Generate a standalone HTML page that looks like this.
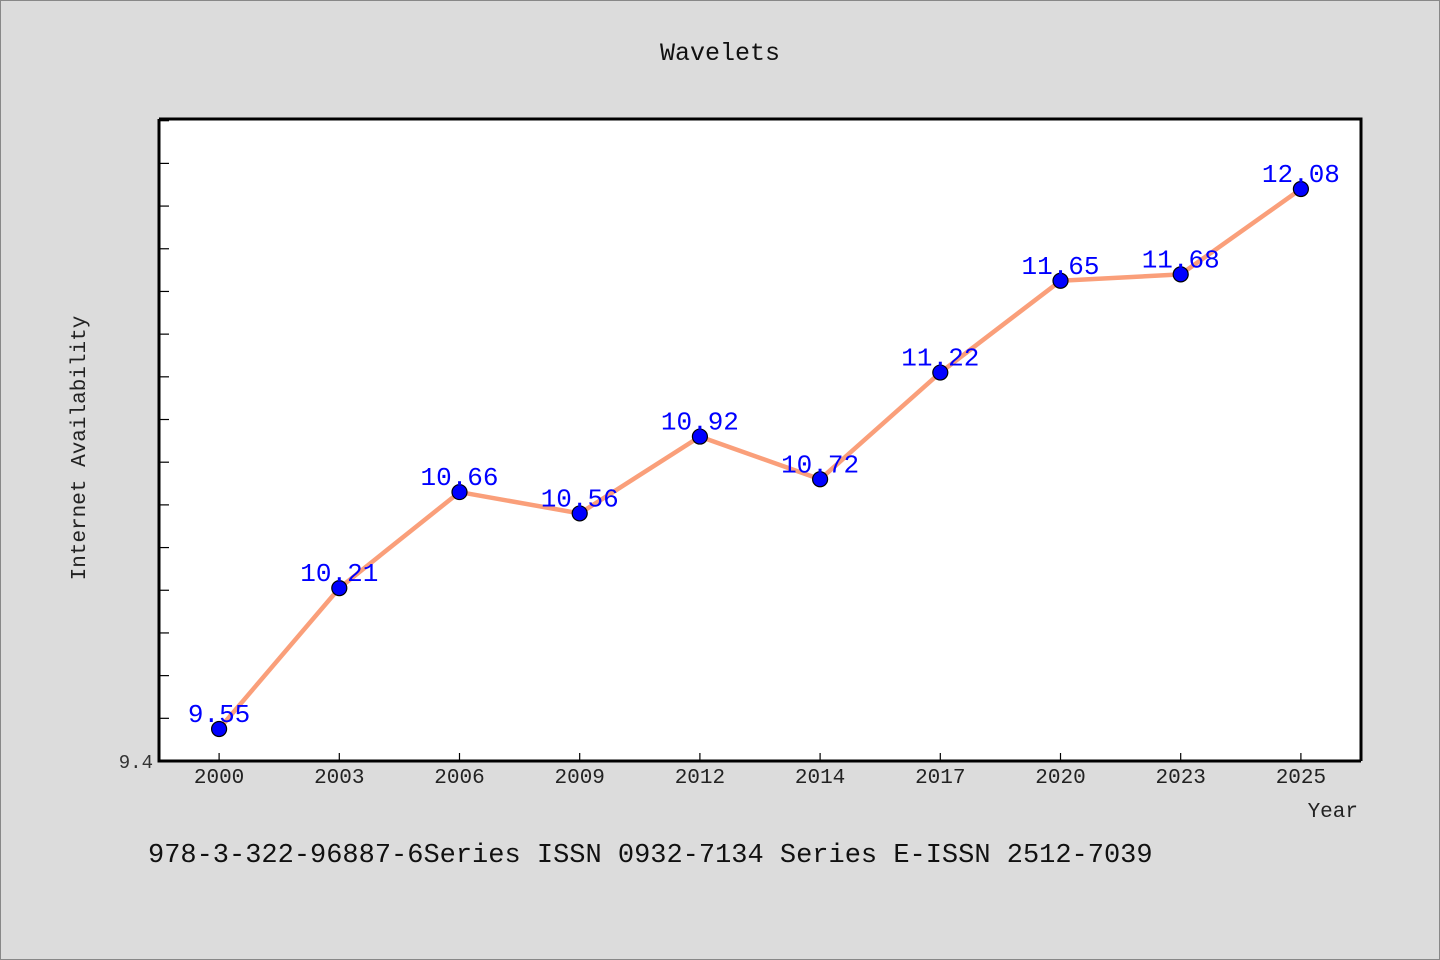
<!DOCTYPE html>
<html><head><meta charset="utf-8"><style>
html,body{margin:0;padding:0;}
body{width:1440px;height:960px;background:#dcdcdc;overflow:hidden;font-family:"WenQuanYi Zen Hei","Liberation Mono",monospace;}
svg{position:absolute;left:0;top:0;}
</style></head><body>
<svg id="chart" width="1440" height="960">
<rect x="0.5" y="0.5" width="1439" height="959" fill="#dcdcdc" stroke="#888"/>
<text x="720" y="60" text-anchor="middle" font-size="25" fill="#111">Wavelets</text>
<rect x="159" y="119" width="1202" height="642" fill="#fff"/>
<g id="ticks"></g>
<g id="series"></g>
<path d="M159,119 H1361 V761" fill="none" stroke="#000" stroke-width="3"/>
<path d="M159,119 V761 H1361" fill="none" stroke="#000" stroke-width="3"/>
<text x="85" y="448" text-anchor="middle" font-size="21" fill="#222" transform="rotate(-90 85 448)">Internet Availability</text>
<text x="1358" y="817" text-anchor="end" font-size="21" fill="#222">Year</text>
<text x="148" y="862" font-size="27" fill="#111">978-3-322-96887-6Series ISSN 0932-7134 Series E-ISSN 2512-7039</text>
</svg>
<script>
const categories=["2000","2003","2006","2009","2012","2014","2017","2020","2023","2025"];
const values=[9.55,10.21,10.66,10.56,10.92,10.72,11.22,11.65,11.68,12.08];
const yMin=9.4, yMax=12.408;
const yTickLabels=["9.4"];
const NS="http://www.w3.org/2000/svg";
const L=159,R=1361,T=119,B=761;
const band=(R-L)/categories.length;
function xs(i){return L+band*(i+0.5);}
function ys(v){return B-(v-yMin)/(yMax-yMin)*(B-T);}
function mk(tag,attrs,parent){const e=document.createElementNS(NS,tag);for(const k in attrs)e.setAttribute(k,attrs[k]);parent.appendChild(e);return e;}
const tg=document.getElementById('ticks'), sg=document.getElementById('series');
for(let v=yMin+0.2;v<yMax;v+=0.2){
  const t=mk('line',{x1:L,x2:L+10,y1:ys(v),y2:ys(v),stroke:'#000','stroke-width':1.2},tg);
  
  
}
yTickLabels.forEach(s=>{
  const t=mk('text',{x:L-6,y:ys(parseFloat(s))+7,'text-anchor':'end','font-size':19,fill:'#333'},tg);
  t.textContent=s;
  
  
});
categories.forEach((c,i)=>{
  const t=mk('line',{x1:xs(i),x2:xs(i),y1:B,y2:B-8,stroke:'#000','stroke-width':1.2},tg);
  
  
  const l=mk('text',{x:xs(i),y:783,'text-anchor':'middle','font-size':21,fill:'#222'},tg);
  l.textContent=c;
  
  
});
const line=mk('polyline',{points:values.map((v,i)=>xs(i)+','+ys(v)).join(' '),fill:'none',stroke:'#fa9f7a','stroke-width':4.5,'stroke-linejoin':'round'},sg);


values.forEach((v,i)=>{
  const p=mk('circle',{cx:xs(i),cy:ys(v),r:7.5,fill:'#0000ff',stroke:'#000','stroke-width':1.2},sg);
  
  
});
values.forEach((v,i)=>{
  const t=mk('text',{x:xs(i),y:ys(v)-7,'text-anchor':'middle','font-size':26,fill:'#0000ff'},sg);
  t.textContent=v.toFixed(2);
  
  
});
</script>
</body></html>
